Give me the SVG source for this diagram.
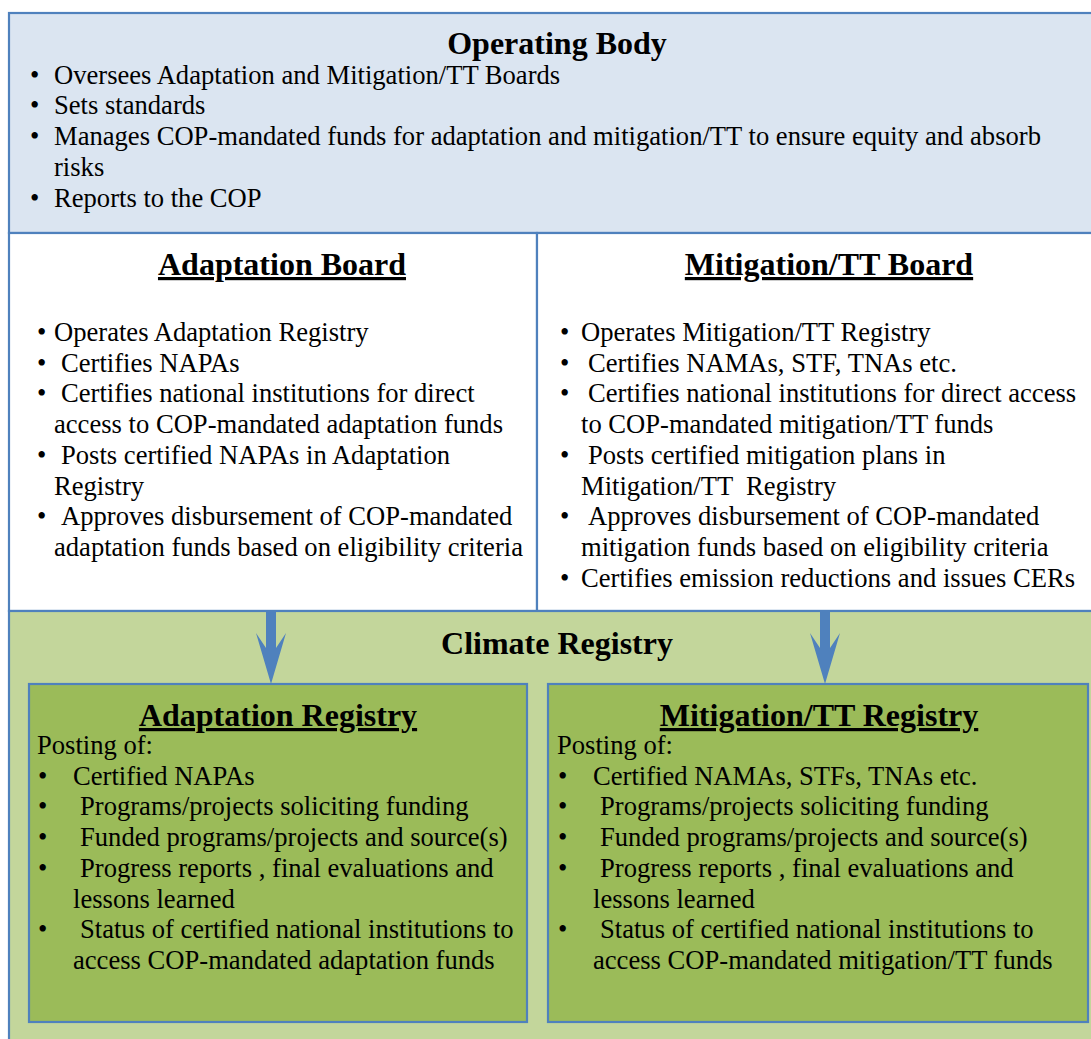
<svg xmlns="http://www.w3.org/2000/svg" width="1091" height="1039" viewBox="0 0 1091 1039" font-family="'Liberation Serif', 'DejaVu Serif', serif">
  <style>
    .box { stroke: #4F81BD; stroke-width: 2.2; }
    .top { fill: #DBE5F1; }
    .board { fill: #FFFFFF; }
    .reg { fill: #C3D69B; }
    .sub { fill: #9BBB59; }
    text { font-family: 'Liberation Serif', 'DejaVu Serif', serif; fill: #000000; }
    .t { font-size: 26.6px; }
    .h { font-size: 32px; font-weight: bold; text-anchor: middle; }
    .u { text-decoration: underline; }
    .arrow { fill: #4F81BD; }
  </style>

  <!-- Operating Body -->
  <g id="operating-body">
    <rect class="box top" x="9" y="13" width="1100" height="220"/>
    <text class="h" x="557" y="54">Operating Body</text>
    <g class="t">
      <text x="30" y="84">•</text><text x="54" y="84">Oversees Adaptation and Mitigation/TT Boards</text>
      <text x="30" y="114">•</text><text x="54" y="114">Sets standards</text>
      <text x="30" y="145">•</text><text x="54" y="145">Manages COP-mandated funds for adaptation and mitigation/TT to ensure equity and absorb</text>
      <text x="54" y="176">risks</text>
      <text x="30" y="207">•</text><text x="54" y="207">Reports to the COP</text>
    </g>
  </g>

  <!-- Adaptation Board -->
  <g id="adaptation-board">
    <rect class="box board" x="9" y="233" width="528" height="378"/>
    <text class="h u" x="282" y="275">Adaptation Board</text>
    <g class="t">
      <text x="37" y="341">•</text><text x="54" y="341">Operates Adaptation Registry</text>
      <text x="37" y="371.7">•</text><text x="61" y="371.7">Certifies NAPAs</text>
      <text x="37" y="402.4">•</text><text x="61" y="402.4">Certifies national institutions for direct</text>
      <text x="54" y="433.1">access to COP-mandated adaptation funds</text>
      <text x="37" y="463.8">•</text><text x="61" y="463.8">Posts certified NAPAs in Adaptation</text>
      <text x="54" y="494.5">Registry</text>
      <text x="37" y="525.2">•</text><text x="61" y="525.2">Approves disbursement of COP-mandated</text>
      <text x="54" y="555.9">adaptation funds based on eligibility criteria</text>
    </g>
  </g>

  <!-- Mitigation/TT Board -->
  <g id="mitigation-board">
    <rect class="box board" x="537" y="233" width="572" height="378"/>
    <text class="h u" x="829" y="275">Mitigation/TT Board</text>
    <g class="t">
      <text x="560" y="341">•</text><text x="581" y="341">Operates Mitigation/TT Registry</text>
      <text x="560" y="371.7">•</text><text x="588" y="371.7">Certifies NAMAs, STF, TNAs etc.</text>
      <text x="560" y="402.4">•</text><text x="588" y="402.4">Certifies national institutions for direct access</text>
      <text x="581" y="433.1">to COP-mandated mitigation/TT funds</text>
      <text x="560" y="463.8">•</text><text x="588" y="463.8">Posts certified mitigation plans in</text>
      <text x="581" y="494.5" xml:space="preserve">Mitigation/TT  Registry</text>
      <text x="560" y="525.2">•</text><text x="588" y="525.2">Approves disbursement of COP-mandated</text>
      <text x="581" y="555.9">mitigation funds based on eligibility criteria</text>
      <text x="560" y="586.6">•</text><text x="581" y="586.6">Certifies emission reductions and issues CERs</text>
    </g>
  </g>

  <!-- Climate Registry container -->
  <g id="climate-registry">
    <rect class="box reg" x="9" y="611" width="1100" height="440"/>
    <text class="h" x="557" y="654">Climate Registry</text>
  </g>

  <!-- Adaptation Registry -->
  <g id="adaptation-registry">
    <rect class="box sub" x="29" y="684" width="498" height="338"/>
    <text class="h u" x="278" y="726">Adaptation Registry</text>
    <g class="t">
      <text x="37" y="754">Posting of:</text>
      <text x="38" y="784.7">•</text><text x="73" y="784.7">Certified NAPAs</text>
      <text x="38" y="815.4">•</text><text x="80" y="815.4">Programs/projects soliciting funding</text>
      <text x="38" y="846.1">•</text><text x="80" y="846.1">Funded programs/projects and source(s)</text>
      <text x="38" y="876.8">•</text><text x="80" y="876.8">Progress reports , final evaluations and</text>
      <text x="73" y="907.5">lessons learned</text>
      <text x="38" y="938.2">•</text><text x="80" y="938.2">Status of certified national institutions to</text>
      <text x="73" y="968.9">access COP-mandated adaptation funds</text>
    </g>
  </g>

  <!-- Mitigation/TT Registry -->
  <g id="mitigation-registry">
    <rect class="box sub" x="548" y="684" width="540" height="338"/>
    <text class="h u" x="819" y="726">Mitigation/TT Registry</text>
    <g class="t">
      <text x="557" y="754">Posting of:</text>
      <text x="558" y="784.7">•</text><text x="593" y="784.7">Certified NAMAs, STFs, TNAs etc.</text>
      <text x="558" y="815.4">•</text><text x="600" y="815.4">Programs/projects soliciting funding</text>
      <text x="558" y="846.1">•</text><text x="600" y="846.1">Funded programs/projects and source(s)</text>
      <text x="558" y="876.8">•</text><text x="600" y="876.8">Progress reports , final evaluations and</text>
      <text x="593" y="907.5">lessons learned</text>
      <text x="558" y="938.2">•</text><text x="600" y="938.2">Status of certified national institutions to</text>
      <text x="593" y="968.9">access COP-mandated mitigation/TT funds</text>
    </g>
  </g>

  <!-- Board to registry arrows -->
  <g id="connectors">
    <polygon class="arrow" points="266,611 276,611 276,648 286,633 271,684 256,633 266,648"/>
    <polygon class="arrow" points="820,611 830,611 830,648 840,633 825,684 810,633 820,648"/>
  </g>
</svg>
